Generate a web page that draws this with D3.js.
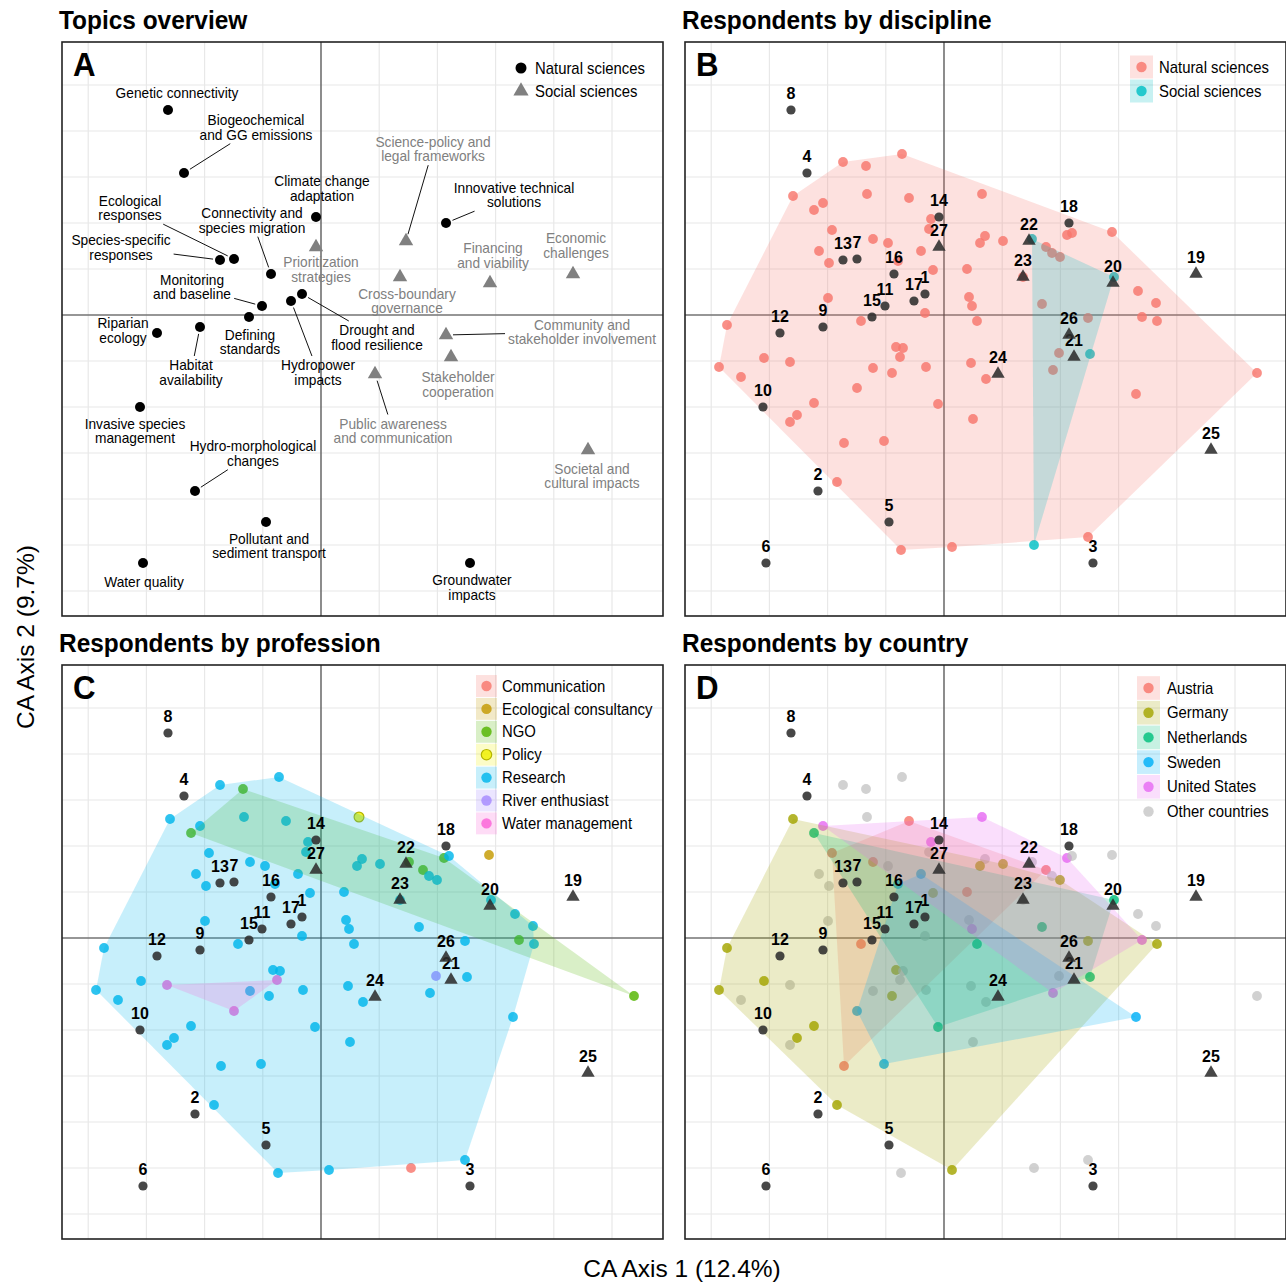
<!DOCTYPE html>
<html>
<head>
<meta charset="utf-8">
<script src="https://cdn.jsdelivr.net/npm/d3@7"></script>
<style>
  body { margin: 0; background: #fff; }
  svg { font-family: "Liberation Sans", Arial, sans-serif; }
</style>
</head>
<body>
<svg id="chart" width="1286" height="1285"></svg>
<script>
(function () {
    "use strict";

    // ---- topics (CA column scores) ----
    var topicX = [-0.19, -1.26, 1.49, -1.37, -0.55, -1.78, -0.87, -1.53, -1.21, -1.81,
                  -0.59, -1.64, -1.01, -0.05, -0.72, -0.50, -0.30, 1.25, 2.52, 1.69,
                  1.30, 0.85, 0.79, 0.54, 2.67, 1.25, -0.05];
    var topicY = [0.21, -1.76, -2.48, 1.42, -2.07, -2.48, 0.56, 2.05, -0.12, -0.92,
                  0.09, -0.18, 0.55, 0.98, -0.02, 0.41, 0.14, 0.92, 0.41, 0.32,
                  -0.42, 0.74, 0.38, -0.59, -1.35, -0.20, 0.68];
    // 0 = natural sciences, 1 = social sciences
    var topicField = [0,0,0,0,0,0,0,0,0,0, 0,0,0,0,0,0,0,0,1,1, 1,1,1,1,1,1,1];
    var topicLabel = [
        "Drought and\nflood resilience", "Hydro-morphological\nchanges", "Groundwater\nimpacts",
        "Biogeochemical\nand GG emissions", "Pollutant and\nsediment transport", "Water quality",
        "Ecological\nresponses", "Genetic connectivity", "Habitat\navailability",
        "Invasive species\nmanagement", "Monitoring\nand baseline", "Riparian\necology",
        "Species-specific\nresponses", "Climate change\nadaptation", "Defining\nstandards",
        "Connectivity and\nspecies migration", "Hydropower\nimpacts", "Innovative technical\nsolutions",
        "Economic\nchallenges", "Financing\nand viability", "Stakeholder\ncooperation",
        "Science-policy and\nlegal frameworks", "Cross-boundary\ngovernance", "Public awareness\nand communication",
        "Societal and\ncultural impacts", "Community and\nstakeholder involvement", "Prioritization\nstrategies"
    ];
    var fieldNames = ["Natural sciences", "Social sciences"];

    // ---- respondents (CA row scores) ----
    var respX = [-0.42, -1.01, -0.78, -1.51, -1.21, -1.30, -0.77, -0.35, 0.38, -0.13,
                 -0.15, -1.12, -0.71, -0.56, -1.25, -1.15, -0.23, 0.41, 0.36, 0.59,
                 -0.46, -0.11, 0.23, -1.16, 0.25, 0.28, -0.19, -0.83, 0.33, -2.17,
                 1.68, 1.23, 1.28, 1.02, 1.08, 1.16, 0.79, 1.94, 2.12, 1.98,
                 2.13, 0.98, 1.44, -0.48, -0.41, -0.44, -1.80, -1.54, -2.25, -2.03,
                 -0.71, -0.52, -0.18, 0.27, -0.87, -1.30, -1.47, -1.54, -0.06, 0.29,
                 -1.00, -0.60, -1.07, -0.43, 0.08, 1.15, 1.09, 0.42, 1.92, 3.13,
                 1.44, 0.88, 1.70, 1.46, 0.90];
    var respY = [1.61, 1.53, 1.49, 1.19, 1.12, 1.05, 1.21, 1.17, 1.21, 0.96,
                 0.86, 0.85, 0.76, 0.72, 0.64, 0.52, 0.64, 0.79, 0.72, 0.74,
                 0.54, 0.45, 0.46, 0.17, 0.18, 0.09, 0.02, -0.06, -0.06, -0.10,
                 0.83, 0.80, 0.82, 0.68, 0.62, 0.58, 0.38, 0.24, 0.12, -0.02,
                 -0.06, 0.11, -0.03, -0.32, -0.33, -0.42, -0.43, -0.47, -0.52, -0.62,
                 -0.53, -0.58, -0.52, -0.48, -0.73, -0.88, -1.00, -1.07, -0.89, -1.04,
                 -1.28, -1.26, -1.67, -2.35, -2.32, -0.38, -0.55, -0.64, -0.79, -0.58,
                 -2.22, 0.76, 0.38, -0.39, -2.30];

    var disciplines = ["Natural sciences", "Social sciences"];
    var respDiscipline = [0,0,0,0,0,0,0,0,0,0, 0,0,0,0,0,0,0,0,0,0, 0,0,0,0,0,0,0,0,0,0,
                          0,0,0,0,0,0,0,0,0,0, 0,0,0,0,0,0,0,0,0,0, 0,0,0,0,0,0,0,0,0,0,
                          0,0,0,0,0,0,0,0,0,0, 0,1,1,1,1];

    var professions = ["Communication", "Ecological consultancy", "NGO", "Policy",
                       "Research", "River enthusiast", "Water management"];
    var respProfession = [4,4,2,4,4,2,4,4,3,4, 4,4,4,4,4,4,4,4,4,4, 4,4,4,4,4,4,4,4,4,4,
                          1,2,4,2,4,4,4,4,4,2, 4,4,4,4,4,6,4,6,4,4, 4,4,4,4,6,4,4,4,4,4,
                          4,4,4,4,4,5,4,4,4,2, 4,2,4,4,0];

    var countries = ["Austria", "Germany", "Netherlands", "Sweden", "United States", "Other countries"];
    var respCountry = [5,5,5,1,4,2,5,0,4,4, 5,0,0,5,5,5,3,5,1,1, 3,1,0,5,5,4,5,0,2,1,
                       5,4,5,0,5,1,5,5,5,4, 1,2,1,1,5,5,1,5,1,5, 5,1,5,5,3,1,1,5,2,5,
                       0,3,1,5,1,5,4,5,3,5, 5,5,2,2,5];

    // label placement for panel A: [dx, dy, draw leader]
    var topicLabelNudge = [
        [75, 43.5, 1], [58, -37.5, 1], [2, 24.5, 0], [72, -45.5, 1], [3, 24, 0], [1, 19, 0],
        [-104, -51, 1], [9, -17, 0], [-9, 45.5, 1], [-5, 24, 0], [-70, -19, 1], [-34, -2.5, 0],
        [-99, -12.5, 1], [6, -28.5, 0], [1, 25, 0], [-19, -53.5, 1], [27, 71.5, 1], [68, -28, 1],
        [3, -28.5, 0], [3, -27.5, 0], [7, 27.5, 0], [27, -92, 1], [7, 24, 0], [18, 57, 1],
        [4, 26, 0], [136, -3, 1], [5, 22.5, 0]
    ];

    var panelW = 601, panelH = 574;
    var gridStepX = 0.582, gridStepY = 0.46;
    var x = d3.scaleLinear().domain([-2.59, 3.42]).range([0, panelW]);
    var y = d3.scaleLinear().domain([2.73, -3.01]).range([0, panelH]);
    var svg = d3.select("#chart");

    // text, optionally squeezed horizontally like the original figure
    function txt(g, str, px, py, size, anchor, weight, fill, mid, sx) {
        return g.append("text")
            .attr("transform", "translate(" + px + "," + py + ") scale(" + (sx || 0.93) + ",1)")
            .attr("text-anchor", anchor || "start")
            .attr("font-size", size)
            .attr("font-weight", weight || "normal")
            .attr("fill", fill || "#000")
            .attr("dy", mid ? "0.35em" : null)
            .text(str);
    }

    function makePanel(left, top, title, letter) {
        var g = svg.append("g").attr("transform", "translate(" + left + "," + top + ")");
        var gx = d3.range(-10, 11).map(function (k) { return k * gridStepX; })
            .filter(function (v) { return x(v) > 1 && x(v) < panelW - 1; });
        var gy = d3.range(-10, 11).map(function (k) { return k * gridStepY; })
            .filter(function (v) { return y(v) > 1 && y(v) < panelH - 1; });
        g.selectAll(".gx").data(gx).enter().append("line")
            .attr("x1", x).attr("x2", x).attr("y1", 0).attr("y2", panelH)
            .attr("stroke", "#e8e8e8").attr("stroke-width", 1.2);
        g.selectAll(".gy").data(gy).enter().append("line")
            .attr("y1", y).attr("y2", y).attr("x1", 0).attr("x2", panelW)
            .attr("stroke", "#e8e8e8").attr("stroke-width", 1.2);
        g.append("line").attr("x1", x(0)).attr("x2", x(0)).attr("y1", 0).attr("y2", panelH)
            .attr("stroke", "#3a3a3a").attr("stroke-width", 1.1);
        g.append("line").attr("y1", y(0)).attr("y2", y(0)).attr("x1", 0).attr("x2", panelW)
            .attr("stroke", "#3a3a3a").attr("stroke-width", 1.1);
        txt(svg, title, left - 3, top - 13, 26, "start", "bold", "#000", false, 0.94);
        txt(g, letter, 11, 34, 34, "start", "bold", "#000", false, 0.92);
        return g;
    }

    function frame(g) {
        g.append("rect").attr("x", 0).attr("y", 0).attr("width", panelW).attr("height", panelH)
            .attr("fill", "none").attr("stroke", "#222").attr("stroke-width", 1.6);
    }

    var tri = d3.symbol().type(d3.symbolTriangle);

    // ---------------- A: topics overview ----------------
    var gA = makePanel(62, 42, "Topics overview", "A");
    topicLabel.forEach(function (lab, i) {
        var px = x(topicX[i]), py = y(topicY[i]);
        var nud = topicLabelNudge[i];
        var lines = lab.split("\n");
        var col = topicField[i] ? "#808080" : "#000";
        var tg = gA.append("g");
        lines.forEach(function (ln, j) {
            txt(tg, ln, px + nud[0], py + nud[1] + (j - (lines.length - 1) / 2) * 14.5,
                14, "middle", "normal", col, true, 0.98);
        });
        if (nud[2]) {
            var bb = tg.node().getBBox();
            var cx = bb.x + bb.width / 2, cy = bb.y + bb.height / 2;
            var vx = px - cx, vy = py - cy;
            var t = Math.min((bb.width / 2 + 3) / Math.abs(vx || 1e-6),
                             (bb.height / 2 + 1) / Math.abs(vy || 1e-6));
            var ex = cx + vx * t, ey = cy + vy * t;
            var len = Math.sqrt((ex - px) * (ex - px) + (ey - py) * (ey - py));
            gA.append("line")
                .attr("x1", px + (ex - px) / len * 7).attr("y1", py + (ey - py) / len * 7)
                .attr("x2", ex).attr("y2", ey)
                .attr("stroke", "#111").attr("stroke-width", 1);
        }
    });
    topicX.forEach(function (v, i) {
        if (topicField[i]) {
            gA.append("path").attr("d", tri.size(90)())
                .attr("transform", "translate(" + x(v) + "," + y(topicY[i]) + ")")
                .attr("fill", "#808080");
        } else {
            gA.append("circle").attr("cx", x(v)).attr("cy", y(topicY[i])).attr("r", 5)
                .attr("fill", "#000");
        }
    });
    // legend A
    gA.append("circle").attr("cx", 459).attr("cy", 26).attr("r", 5.5).attr("fill", "#000");
    txt(gA, fieldNames[0], 473, 26, 16, "start", "normal", "#000", true);
    gA.append("path").attr("d", tri.size(100)()).attr("transform", "translate(459,49)")
        .attr("fill", "#808080");
    txt(gA, fieldNames[1], 473, 49, 16, "start", "normal", "#000", true);
    frame(gA);

    // ---------------- B, C, D: respondents ----------------
    function respondentPanel(opt) {
        var g = makePanel(opt.left, opt.top, opt.title, opt.letter);
        var groups = opt.groups;

        respX.forEach(function (v, i) {
            var k = groups[i];
            g.append("circle").attr("cx", x(v)).attr("cy", y(respY[i])).attr("r", 4.9)
                .attr("fill", opt.colors[k]).attr("fill-opacity", opt.pointOpacity[k] || 0.82)
                .attr("stroke", opt.strokes[k] || "none").attr("stroke-width", 1.2);
        });

        opt.names.forEach(function (name, k) {
            if (!opt.hull[k]) return;
            var pts = [];
            respX.forEach(function (v, i) {
                if (groups[i] === k) pts.push([x(v), y(respY[i])]);
            });
            if (pts.length < 3) return;
            var h = d3.polygonHull(pts);
            g.append("path").attr("d", "M" + h.join("L") + "Z")
                .attr("fill", opt.colors[k]).attr("fill-opacity", 0.22);
        });

        topicX.forEach(function (v, i) {
            var px = x(v), py = y(topicY[i]);
            if (topicField[i]) {
                g.append("path").attr("d", tri.size(78)())
                    .attr("transform", "translate(" + px + "," + py + ")")
                    .attr("fill", "#2e2e2e").attr("fill-opacity", 0.88);
            } else {
                g.append("circle").attr("cx", px).attr("cy", py).attr("r", 4.6)
                    .attr("fill", "#2e2e2e").attr("fill-opacity", 0.88);
            }
            txt(g, String(i + 1), px, py - 17, 16, "middle", "bold", "#000", true, 1);
        });

        var L = opt.legend;
        opt.names.forEach(function (name, k) {
            var cy = L.y0 + k * L.step;
            if (opt.hull[k]) {
                g.append("rect").attr("x", L.x).attr("y", cy - (L.step - 1) / 2)
                    .attr("width", L.w).attr("height", L.step - 1)
                    .attr("fill", opt.colors[k]).attr("fill-opacity", 0.22);
            }
            g.append("circle").attr("cx", L.x + L.w / 2).attr("cy", cy).attr("r", 5.2)
                .attr("fill", opt.colors[k]).attr("fill-opacity", opt.pointOpacity[k] || 0.82)
                .attr("stroke", opt.strokes[k] || "none").attr("stroke-width", 1.2);
            txt(g, name, L.tx, cy, 16, "start", "normal", "#000", true);
        });
        frame(g);
        return g;
    }

    respondentPanel({
        left: 685, top: 42, title: "Respondents by discipline", letter: "B",
        groups: respDiscipline, names: disciplines,
        colors: ["#F8766D", "#00BFC4"], strokes: [], pointOpacity: [],
        hull: [1, 1],
        legend: { x: 445, w: 23, y0: 25, step: 24, tx: 474 }
    });

    respondentPanel({
        left: 62, top: 665, title: "Respondents by profession", letter: "C",
        groups: respProfession, names: professions,
        colors: ["#F8766D", "#C49A00", "#53B400", "#F0F000", "#00B6EB", "#A58AFF", "#FB61D7"],
        strokes: [null, null, null, "#B5B500"], pointOpacity: [],
        hull: [1, 1, 1, 1, 1, 1, 1],
        legend: { x: 414, w: 21, y0: 21, step: 22.9, tx: 440 }
    });

    respondentPanel({
        left: 685, top: 665, title: "Respondents by country", letter: "D",
        groups: respCountry, names: countries,
        colors: ["#F8766D", "#A3A500", "#00BF7D", "#00B0F6", "#E76BF3", "#BDBDBD"],
        strokes: [], pointOpacity: [0, 0, 0, 0, 0, 0.7],
        hull: [1, 1, 1, 1, 1, 0],
        legend: { x: 452, w: 23, y0: 23, step: 24.7, tx: 482 }
    });

    // axis titles
    txt(svg, "CA Axis 1 (12.4%)", 682, 1277, 24.5, "middle", "normal", "#000", false, 1);
    svg.append("text")
        .attr("transform", "translate(34,637) rotate(-90)")
        .attr("text-anchor", "middle").attr("font-size", 24.5)
        .text("CA Axis 2 (9.7%)");
}());
</script>
</body>
</html>
